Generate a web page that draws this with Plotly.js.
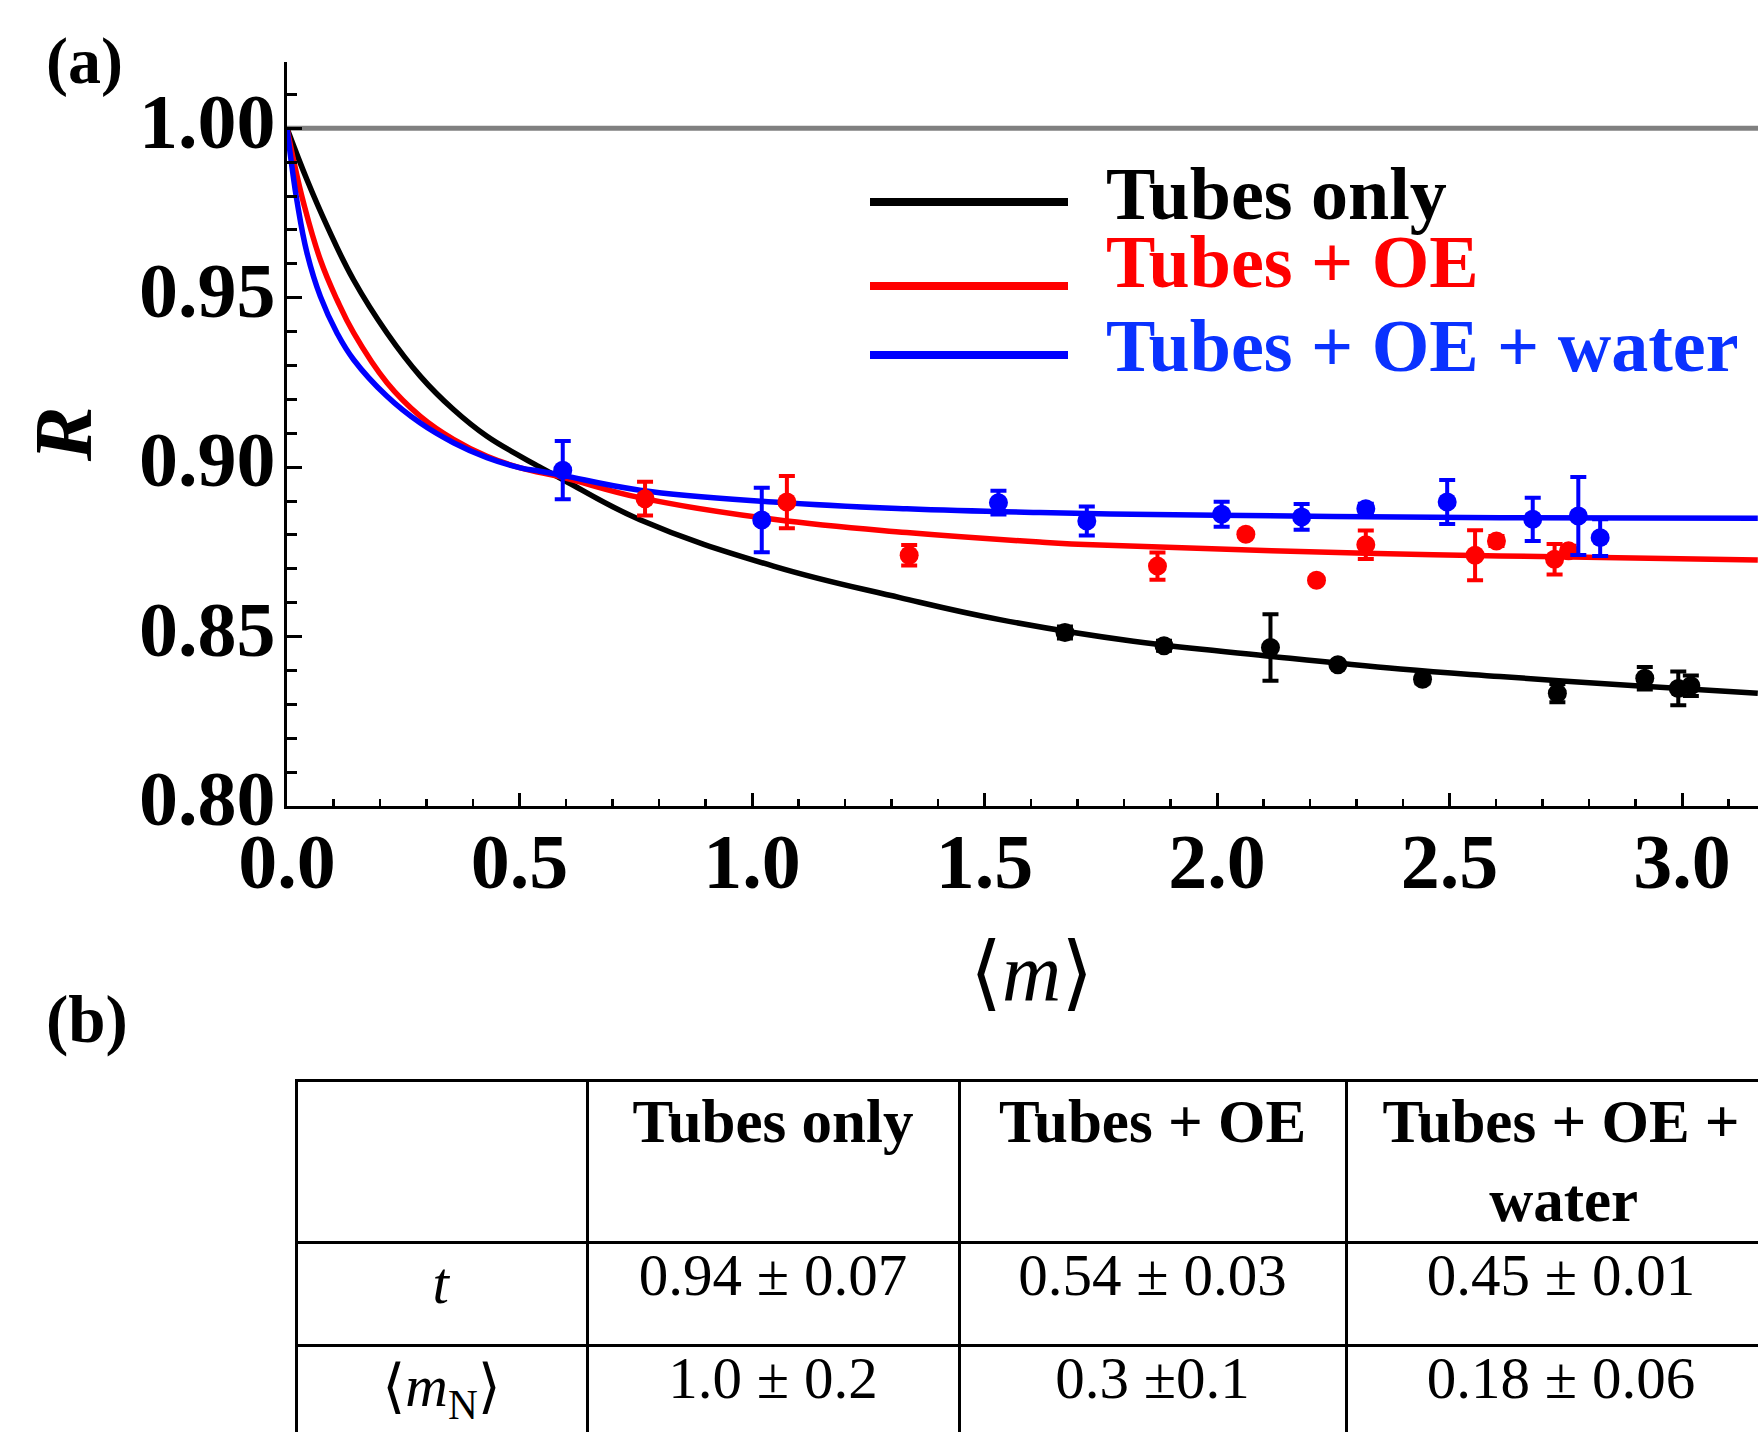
<!DOCTYPE html>
<html>
<head>
<meta charset="utf-8">
<script src="https://cdn.plot.ly/plotly-3.0.1.min.js"></script>
<style>
html, body { margin: 0; padding: 0; overflow: hidden; background: #fff; width: 1758px; height: 1432px; }
#chart { width: 1800px; height: 1460px; }
</style>
</head>
<body>
<div id="chart"></div>
<script>
// ---------- data ----------
// fitted curves
const curveX_tubes = [0, 0.043, 0.086, 0.143, 0.215, 0.287, 0.358, 0.430, 0.502, 0.544, 0.595, 0.759, 1.046, 1.318, 1.533, 1.820, 2.107, 2.394, 2.609, 2.900, 3.163];
const curveR_tubes = [1.000, 0.9848, 0.9712, 0.9553, 0.9396, 0.9268, 0.917, 0.9091, 0.9032, 0.9000, 0.8962, 0.8845, 0.8708, 0.8615, 0.8550, 0.8486, 0.8443, 0.8404, 0.8382, 0.8355, 0.8333];

const curveX_oe = [0, 0.0143, 0.0358, 0.0717, 0.1075, 0.1434, 0.215, 0.2867, 0.358, 0.430, 0.502, 0.595, 0.759, 1.046, 1.333, 1.619, 1.748, 2.320, 2.609, 3.163];
const curveR_oe = [1.000, 0.9905, 0.9779, 0.9612, 0.9494, 0.9396, 0.9249, 0.9150, 0.9082, 0.9032, 0.8998, 0.8969, 0.8910, 0.8846, 0.8807, 0.8779, 0.8770, 0.8746, 0.8738, 0.8726];

const curveX_water = [0, 0.0108, 0.0215, 0.043, 0.0717, 0.1075, 0.1434, 0.215, 0.2867, 0.358, 0.430, 0.502, 0.544, 0.595, 0.759, 1.046, 1.333, 1.619, 2.000, 2.609, 3.163];
const curveR_water = [1.000, 0.9885, 0.9785, 0.9632, 0.9504, 0.9396, 0.9317, 0.9209, 0.9130, 0.9072, 0.9028, 0.8998, 0.8988, 0.8975, 0.8932, 0.8897, 0.8877, 0.8866, 0.8858, 0.8851, 0.8849];

// measured points with error bars
const ptsX_tubes   = [1.673, 1.886, 2.115, 2.260, 2.442, 2.732, 2.920, 2.992, 3.019];
const ptsR_tubes   = [0.8512, 0.8473, 0.8468, 0.8417, 0.8374, 0.8333, 0.8377, 0.8347, 0.8355];
const ptsErr_tubes = [0.0018, 0.0015, 0.0098, 0.0008, 0.0012, 0.0027, 0.0033, 0.0050, 0.0030];

const ptsX_oe   = [0.770, 1.075, 1.338, 1.872, 2.062, 2.214, 2.320, 2.555, 2.601, 2.726, 2.756];
const ptsR_oe   = [0.8907, 0.8897, 0.8740, 0.8708, 0.8802, 0.8666, 0.8771, 0.8740, 0.8782, 0.8728, 0.8753];
const ptsErr_oe = [0.0050, 0.0077, 0.0030, 0.0040, 0.0008, 0.0008, 0.0042, 0.0074, 0.0015, 0.0045, 0.0015];

const ptsX_water   = [0.593, 1.021, 1.530, 1.720, 2.010, 2.182, 2.320, 2.495, 2.679, 2.777, 2.824];
const ptsR_water   = [0.8991, 0.8844, 0.8895, 0.8841, 0.8861, 0.8853, 0.8877, 0.8897, 0.8846, 0.8856, 0.8792];
const ptsErr_water = [0.0086, 0.0095, 0.0035, 0.0043, 0.0037, 0.0038, 0.0015, 0.0065, 0.0064, 0.0115, 0.0054];

const seriesNames = ['Tubes only', 'Tubes + OE', 'Tubes + OE + water'];
const referenceR = 1.00;

const xTickVals = [0, 0.5, 1.0, 1.5, 2.0, 2.5, 3.0];
const yTickVals = [0.80, 0.85, 0.90, 0.95, 1.00];

// table (b)
const tableHeader = ['', 'Tubes only', 'Tubes + OE', 'Tubes + OE +|water'];
const tableRowLabels = ['<i>t</i>', '⟨<i>m</i><sub>N</sub>⟩'];
const tableTubes = ['0.94 ± 0.07', '1.0 ± 0.2'];
const tableOE = ['0.54 ± 0.03', '0.3 ±0.1'];
const tableWater = ['0.45 ± 0.01', '0.18 ± 0.06'];

// ---------- figure ----------
const W = 1800, H = 1460;
const px = v => v / W;
const py = v => 1 - v / H;
const SERIF = '"Liberation Serif", "Times New Roman", "DejaVu Serif", serif';
const colors = ['#000000', '#ff0000', '#0000ff'];
const legendTextColors = ['#000000', '#ff0000', '#0a32ff'];
const NBSP = '\u00A0';

// header lines: two-line headers get their second line padded so it sits centred
function headerText(h) {
  if (!h) return '';
  const parts = h.split('|');
  if (parts.length === 1) return h + '<br>' + NBSP;
  const pad = parts[0].length - parts[1].length;
  return parts[0] + '<br>' + NBSP.repeat(pad) + parts[1];
}

const curves = [[curveX_tubes, curveR_tubes], [curveX_oe, curveR_oe], [curveX_water, curveR_water]];
const pts = [[ptsX_tubes, ptsR_tubes, ptsErr_tubes], [ptsX_oe, ptsR_oe, ptsErr_oe], [ptsX_water, ptsR_water, ptsErr_water]];

const traces = [];
curves.forEach((c, i) => {
  traces.push({
    type: 'scatter', mode: 'lines', x: c[0], y: c[1], name: seriesNames[i],
    line: { color: colors[i], width: 5.5, shape: 'spline', smoothing: 1.2 },
    showlegend: false, hoverinfo: 'skip'
  });
});
pts.forEach((p, i) => {
  traces.push({
    type: 'scatter', mode: 'markers', x: p[0], y: p[1], name: seriesNames[i],
    marker: { color: colors[i], size: 19 },
    error_y: { type: 'data', array: p[2], visible: true, color: colors[i], thickness: 4, width: 8 },
    showlegend: false, hoverinfo: 'skip'
  });
});

traces.push({
  type: 'table',
  domain: { x: [px(296), px(1776)], y: [0, py(1080)] },
  columnwidth: [291, 372, 387, 430],
  header: {
    values: tableHeader.map(headerText),
    align: 'center', height: 160,
    line: { color: '#000', width: 3 },
    fill: { color: '#fff' },
    font: { family: SERIF, size: 61, color: '#000', weight: 'bold' }
  },
  cells: {
    values: [tableRowLabels, tableTubes, tableOE, tableWater],
    align: 'center', height: 103,
    line: { color: '#000', width: 3 },
    fill: { color: '#fff' },
    font: { family: SERIF, size: 59, color: '#000' }
  }
});

const xRange = [0, (1790 - 287) / 465];
const yRange = [0.80, 1.01957];

const annotations = [
  { text: '(a)', x: px(84), y: py(61), xref: 'paper', yref: 'paper', showarrow: false,
    xanchor: 'center', yanchor: 'middle', font: { family: SERIF, size: 66, weight: 'bold', color: '#000' } },
  { text: '(b)', x: px(87), y: py(1019), xref: 'paper', yref: 'paper', showarrow: false,
    xanchor: 'center', yanchor: 'middle', font: { family: SERIF, size: 67, weight: 'bold', color: '#000' } },
  { text: '<i>R</i>', x: px(64), y: py(434), xref: 'paper', yref: 'paper', showarrow: false, textangle: -90,
    xanchor: 'center', yanchor: 'middle', font: { family: SERIF, size: 82, weight: 'bold', color: '#000' } },
  { text: '⟨<i>m</i>⟩', x: px(1031), y: py(972), xref: 'paper', yref: 'paper', showarrow: false,
    xanchor: 'center', yanchor: 'middle', font: { family: SERIF, size: 82, color: '#000' } }
];
const legendLineY = [202, 286, 355];
const legendTextY = [194, 262, 346];
const shapes = [
  { type: 'line', xref: 'x domain', yref: 'y', x0: 0, x1: 1, y0: referenceR, y1: referenceR,
    line: { color: '#808080', width: 5 }, layer: 'below' }
];
seriesNames.forEach((n, i) => {
  shapes.push({ type: 'line', xref: 'paper', yref: 'paper', x0: px(870), x1: px(1068), y0: py(legendLineY[i]), y1: py(legendLineY[i]),
    line: { color: colors[i], width: 8 } });
  annotations.push({ text: n, x: px(1104), y: py(legendTextY[i]), xref: 'paper', yref: 'paper', showarrow: false,
    xanchor: 'left', yanchor: 'middle', font: { family: SERIF, size: 74, weight: 'bold', color: legendTextColors[i] } });
});

const tickFont = { family: SERIF, size: 78, weight: 'bold', color: '#000' };

const layout = {
  width: W, height: H,
  margin: { l: 0, r: 0, t: 0, b: 0, pad: 0 },
  paper_bgcolor: '#fff', plot_bgcolor: '#fff',
  showlegend: false, hovermode: false,
  xaxis: {
    domain: [px(287), px(1790)], range: xRange, anchor: 'y',
    showline: true, linecolor: '#000', linewidth: 3, showgrid: false, zeroline: false,
    ticks: 'inside', tickvals: xTickVals, tickformat: '.1f', ticklen: 13, tickwidth: 3, tickcolor: '#000',
    minor: { dtick: 0.1, tick0: 0, ticks: 'inside', ticklen: 7, tickwidth: 2.5, tickcolor: '#000', showgrid: false },
    tickfont: tickFont, ticklabelstandoff: -15
  },
  xaxis2: {
    overlaying: 'x', side: 'top', anchor: 'y', domain: [px(287), px(1790)], range: xRange,
    showline: true, linecolor: '#000', linewidth: 3, showgrid: false, zeroline: false,
    ticks: 'inside', dtick: 1, tick0: 0, ticklen: 14, tickwidth: 1.5, tickcolor: '#555',
    minor: { dtick: 0.2, tick0: 0, ticks: 'inside', ticklen: 8, tickwidth: 1.5, tickcolor: '#555', showgrid: false },
    showticklabels: false
  },
  yaxis: {
    domain: [py(806), py(62)], range: yRange, anchor: 'x',
    showline: true, linecolor: '#000', linewidth: 3, showgrid: false, zeroline: false,
    ticks: 'inside', tickvals: yTickVals, tickformat: '.2f', ticklen: 15, tickwidth: 3, tickcolor: '#000',
    minor: { dtick: 0.01, tick0: 0.8, ticks: 'inside', ticklen: 10, tickwidth: 3, tickcolor: '#000', showgrid: false },
    tickfont: tickFont, ticklabelstandoff: -7, ticklabelshift: -8
  },
  shapes: shapes,
  annotations: annotations
};

Plotly.newPlot('chart', traces, layout, { staticPlot: true, displayModeBar: false });
</script>
</body>
</html>
